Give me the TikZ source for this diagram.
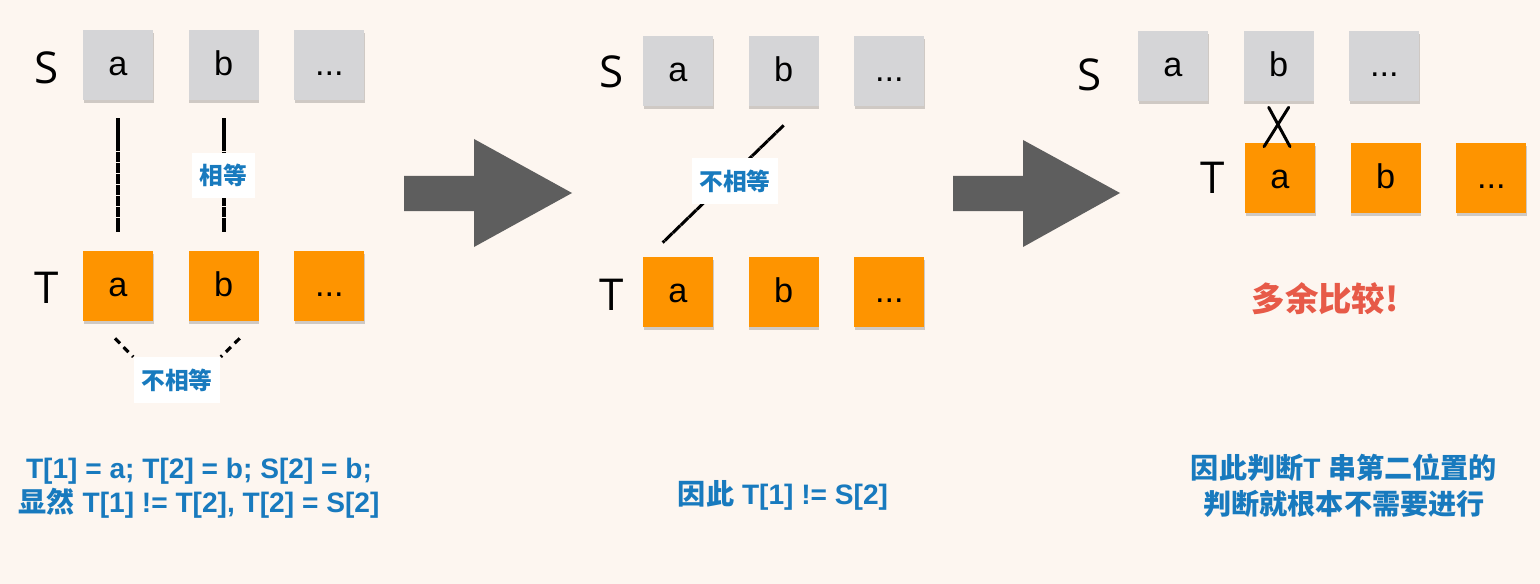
\documentclass[tikz,border=0pt]{standalone}
\usepackage{fontspec}
\setmainfont{Liberation Sans}
\newfontfamily\cjk{Noto Sans CJK SC}
\newfontfamily\hand{Open Sans}
\usetikzlibrary{positioning,calc,shadows}
\definecolor{bgcream}{RGB}{253,246,240}
\definecolor{boxgrey}{RGB}{213,213,215}
\definecolor{boxorange}{RGB}{254,148,0}
\definecolor{noteblue}{RGB}{24,122,190}
\definecolor{warnred}{RGB}{231,90,72}
\definecolor{arrowgrey}{RGB}{94,94,94}

\begin{document}
\begin{tikzpicture}[x=0.02cm, y=-0.02cm,
    cell/.style={minimum size=1.4cm, inner sep=0pt, text height=12.5pt, text depth=0pt,
        font=\fontsize{19.5}{21}\selectfont,
        drop shadow={shadow xshift=0.3pt, shadow yshift=-1.8pt, fill=black, opacity=0.18}},
    scell/.style={cell, fill=boxgrey},
    tcell/.style={cell, fill=boxorange},
    strname/.style={font=\hand\fontsize{25}{27}\selectfont},
    link/.style={line width=2.3pt, black, dash pattern=on 6pt off 0.3pt},
    slash/.style={line width=1.7pt, black, dash pattern=on 6pt off 0.3pt},
    dashlink/.style={line width=1.8pt, black, dash pattern=on 4pt off 3pt},
    cross/.style={line width=1.7pt, black, line cap=round},
    tag/.style={fill=white, text=noteblue, font=\cjk\bfseries\fontsize{13.5}{15}\selectfont, inner xsep=4.5pt, inner ysep=6.5pt},
    note/.style={text=noteblue, align=center, font=\bfseries\fontsize{16}{19.5}\selectfont},
]
    \path[use as bounding box, fill=bgcream] (0,0) rectangle (1540,584);

    % first step
    \node[strname] (s1name) at (47,68) {S};
    \node[strname] (t1name) at (47,288) {T};
    \node[scell] (s1a) at (118,65) {a};
    \node[scell, right=0.7cm of s1a] (s1b) {b};
    \node[scell, right=0.7cm of s1b] (s1c) {...};
    \node[tcell] (t1a) at (118,286) {a};
    \node[tcell, right=0.7cm of t1a] (t1b) {b};
    \node[tcell, right=0.7cm of t1b] (t1c) {...};
    \draw[link, shorten <=0.36cm, shorten >=0.38cm] (s1a) -- (t1a);
    \draw[link, shorten <=0.36cm, shorten >=0.38cm] (s1b) -- (t1b) node[midway, tag] (eq1) {相等};
    \coordinate (d1) at ($(t1a.south)+(-3,17)$);
    \coordinate (d2) at ($(t1b.south)+(16,17)$);
    \node[tag] (neq1) at (177,380) {不相等};
    \draw[dashlink] (d1) -- (neq1.north west);
    \draw[dashlink] (d2) -- (neq1.north east);
    \node[note] (n1) at (199,488) {T[1] = a; T[2] = b; S[2] = b;\\{\cjk 显然} T[1] != T[2], T[2] = S[2]};

    \fill[arrowgrey] (404,176) -- (474,176) -- (474,139) -- (572,193) -- (474,247) -- (474,211) -- (404,211) -- cycle;

    % second step
    \node[strname] (s2name) at (612,72) {S};
    \node[strname] (t2name) at (612,295) {T};
    \node[scell] (s2a) at (678,71) {a};
    \node[scell, right=0.7cm of s2a] (s2b) {b};
    \node[scell, right=0.7cm of s2b] (s2c) {...};
    \node[tcell] (t2a) at (678,292) {a};
    \node[tcell, right=0.7cm of t2a] (t2b) {b};
    \node[tcell, right=0.7cm of t2b] (t2c) {...};
    \coordinate (p1) at ($(s2b.south)+(0,19)$);
    \coordinate (p2) at ($(t2a.north west)+(20,-14)$);
    \draw[slash] (p1) -- (p2);
    \node[tag] (neq2) at (735,181) {不相等};
    \node[note] (n2) at (783,495) {{\cjk 因此} T[1] != S[2]};

    \fill[arrowgrey] (953,176) -- (1023,176) -- (1023,140) -- (1120,193) -- (1023,247) -- (1023,211) -- (953,211) -- cycle;

    % third step
    \node[strname] (s3name) at (1090,75) {S};
    \node[strname] (t3name) at (1213,178) {T};
    \node[scell] (s3a) at (1173,66) {a};
    \node[scell, right=0.7cm of s3a] (s3b) {b};
    \node[scell, right=0.7cm of s3b] (s3c) {...};
    \node[tcell] (t3a) at (1280,178) {a};
    \node[tcell, right=0.7cm of t3a] (t3b) {b};
    \node[tcell, right=0.7cm of t3b] (t3c) {...};
    \coordinate (x1) at ($(s3b.south)+(-10,6)$);
    \coordinate (x2) at ($(t3a.north)+(10,4)$);
    \coordinate (x3) at ($(s3b.south)+(10,6)$);
    \coordinate (x4) at ($(t3a.north)+(-16,4)$);
    \draw[cross] (x1) -- (x2) (x3) -- (x4);
    \node[text=warnred, font=\cjk\bfseries\fontsize{19}{21}\selectfont] (extra) at (1325,299) {多余比较!};
    \node[note, font=\bfseries\fontsize{16}{20.5}\selectfont] (n3) at (1344,486) {{\cjk 因此判断}T {\cjk 串第二位置的}\\{\cjk 判断就根本不需要进行}};
\end{tikzpicture}
\end{document}
